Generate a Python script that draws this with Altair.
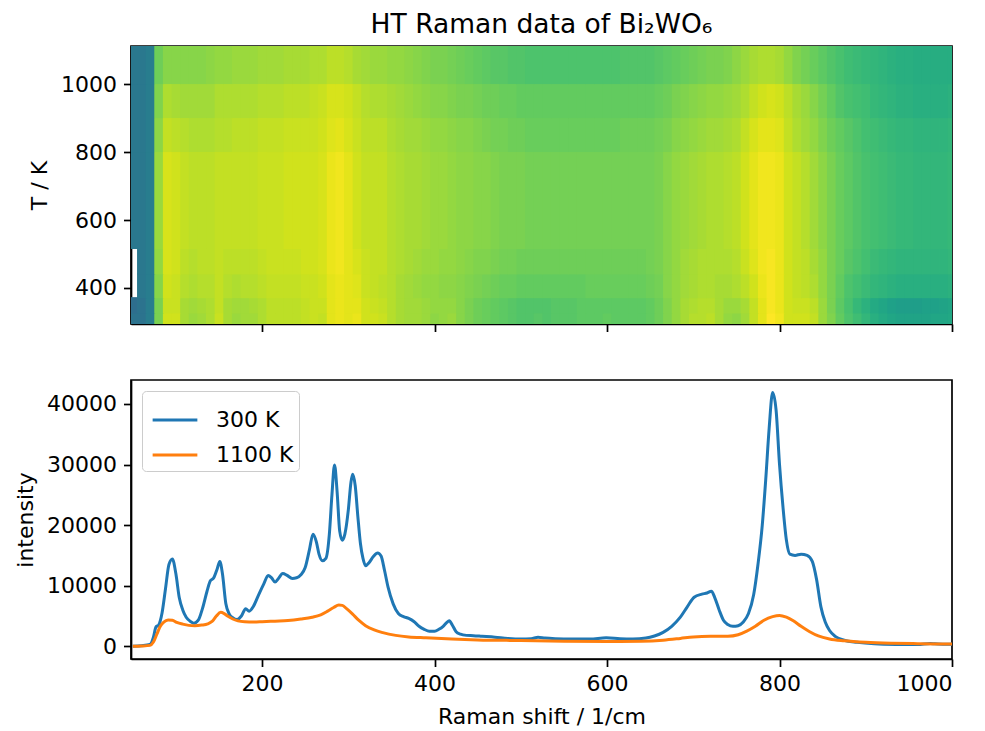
import altair as alt
import pandas as pd

TITLE = "HT Raman data of Bi₂WO₆"

# ---------------- heat map (colour level, 0..100 on viridis) ----------------
HEAT_COLS = list(range(50, 1001, 10))                       # column centres, 1/cm (bin width 10)
HEAT_T_LO = [287, 325, 370, 440, 515, 800, 900, 1000]       # row lower edges, K
HEAT_T_HI = [325, 370, 440, 515, 800, 900, 1000, 1112]      # row upper edges, K

ROW_1 = [38, 38, 42, 80, 93, 93, 87, 85, 86, 88,
         92, 87, 85, 86, 86, 88, 90, 90, 90, 90,
         91, 92, 91, 96, 97, 96, 97, 93, 93, 92,
         89, 87, 86, 86, 85, 83, 84, 85, 82, 80,
         78, 77, 76, 75, 74, 73, 73, 74, 73, 74,
         74, 74, 75, 75, 75, 76, 75, 75, 75, 75,
         76, 78, 81, 84, 87, 89, 89, 90, 87, 84,
         83, 86, 91, 96, 100, 98, 93, 93, 93, 91,
         85, 81, 76, 72, 69, 66, 63, 61, 59, 58,
         58, 58, 58, 59, 59, 60]
ROW_2 = [36, 38, 42, 80, 92, 92, 87, 86, 87, 88,
         91, 87, 86, 86, 87, 88, 90, 90, 90, 90,
         91, 92, 92, 96, 97, 96, 96, 93, 92, 91,
         89, 87, 86, 86, 85, 84, 84, 84, 82, 80,
         78, 77, 76, 75, 74, 73, 73, 73, 73, 74,
         74, 74, 75, 75, 75, 75, 75, 75, 75, 75,
         76, 78, 81, 84, 87, 88, 89, 89, 87, 85,
         85, 87, 91, 96, 99, 97, 93, 92, 92, 90,
         85, 80, 75, 71, 67, 64, 61, 59, 57, 56,
         56, 56, 57, 57, 58, 59]
ROW_3 = [None, 40, 42, 82, 93, 92, 89, 88, 89, 89,
         91, 89, 88, 89, 89, 90, 91, 91, 91, 91,
         92, 92, 93, 96, 97, 96, 95, 92, 91, 90,
         89, 87, 86, 85, 84, 84, 83, 83, 82, 81,
         80, 79, 78, 77, 77, 76, 76, 76, 76, 76,
         76, 76, 76, 77, 77, 77, 77, 77, 77, 77,
         78, 79, 82, 84, 86, 87, 88, 88, 87, 87,
         88, 90, 93, 97, 99, 97, 93, 91, 90, 88,
         84, 80, 76, 72, 70, 68, 66, 65, 64, 63,
         63, 63, 63, 63, 63, 64]
ROW_4 = [None, 40, 42, 84, 94, 93, 90, 89, 90, 90,
         91, 90, 90, 90, 90, 91, 92, 92, 92, 92,
         93, 93, 94, 97, 98, 96, 94, 92, 91, 91,
         89, 88, 87, 86, 85, 85, 84, 84, 83, 82,
         81, 81, 80, 79, 79, 78, 78, 78, 78, 78,
         78, 78, 78, 78, 78, 78, 78, 78, 78, 78,
         79, 80, 82, 84, 86, 87, 88, 88, 88, 88,
         89, 92, 95, 98, 99, 97, 93, 91, 90, 87,
         84, 80, 77, 74, 72, 70, 68, 67, 66, 65,
         65, 65, 65, 65, 65, 66]
ROW_5 = [40, 40, 42, 85, 94, 93, 91, 90, 90, 90,
         91, 91, 91, 91, 91, 92, 92, 92, 93, 93,
         93, 93, 94, 97, 98, 96, 93, 91, 91, 91,
         89, 88, 87, 87, 86, 85, 85, 84, 83, 83,
         82, 82, 81, 80, 80, 80, 79, 79, 79, 79,
         79, 79, 79, 79, 79, 79, 79, 79, 79, 79,
         79, 80, 82, 84, 85, 86, 87, 88, 88, 89,
         90, 93, 96, 98, 98, 97, 93, 91, 89, 86,
         83, 80, 77, 75, 73, 71, 70, 69, 68, 67,
         67, 66, 66, 66, 66, 67]
ROW_6 = [40, 40, 42, 83, 91, 90, 89, 88, 88, 88,
         89, 89, 90, 90, 90, 91, 91, 91, 92, 92,
         92, 92, 93, 95, 96, 94, 92, 90, 90, 90,
         88, 87, 86, 86, 85, 84, 84, 83, 82, 82,
         81, 80, 79, 79, 78, 78, 77, 77, 77, 77,
         77, 77, 77, 77, 77, 77, 77, 78, 78, 78,
         78, 79, 80, 82, 83, 84, 85, 86, 86, 87,
         88, 91, 94, 96, 96, 95, 91, 88, 86, 84,
         81, 78, 76, 74, 72, 70, 69, 68, 67, 66,
         66, 65, 65, 65, 65, 66]
ROW_7 = [40, 40, 42, 81, 88, 87, 86, 86, 86, 86,
         88, 88, 88, 88, 88, 89, 89, 89, 90, 90,
         90, 91, 92, 94, 94, 93, 91, 89, 88, 88,
         87, 86, 85, 84, 83, 82, 82, 81, 80, 80,
         79, 78, 78, 77, 77, 76, 76, 76, 76, 76,
         76, 76, 76, 76, 76, 76, 76, 76, 76, 76,
         76, 77, 78, 80, 81, 82, 83, 84, 84, 85,
         86, 88, 91, 93, 94, 93, 90, 87, 85, 82,
         79, 76, 73, 71, 70, 69, 67, 66, 65, 64,
         64, 63, 63, 63, 63, 64]
ROW_8 = [40, 40, 42, 78, 82, 82, 82, 82, 82, 83,
         84, 84, 85, 85, 85, 86, 86, 86, 87, 87,
         87, 88, 88, 90, 90, 89, 87, 86, 85, 85,
         84, 84, 83, 82, 81, 80, 80, 79, 78, 77,
         76, 75, 74, 74, 73, 73, 72, 72, 72, 72,
         72, 72, 72, 72, 72, 72, 72, 73, 73, 73,
         73, 74, 75, 76, 77, 78, 79, 80, 80, 81,
         83, 85, 87, 88, 88, 87, 84, 81, 79, 77,
         75, 73, 71, 69, 68, 67, 66, 65, 64, 63,
         63, 62, 62, 62, 62, 62]
HEAT_ROWS = [ROW_1, ROW_2, ROW_3, ROW_4, ROW_5, ROW_6, ROW_7, ROW_8]

# ---------------- spectra ----------------
S300_X = [50, 60, 70, 74, 77, 80, 84, 88, 92, 96, 100, 104, 108, 112, 117, 121, 126, 131, 136, 140,
          144, 148, 151, 154, 158, 162, 166, 171, 176, 181, 185, 190, 196, 202, 207, 211, 215, 219, 224, 229,
          235, 240, 245, 250, 255, 259, 263, 266, 270, 274, 278, 281, 284, 287, 290, 293, 296, 300, 303, 305,
          308, 311, 314, 317, 320, 324, 329, 334, 338, 342, 346, 352, 358, 364, 370, 376, 382, 388, 394, 400,
          405, 410, 414, 417, 421, 425, 430, 437, 445, 455, 470, 485, 500, 512, 520, 528, 540, 560, 580, 599,
          615, 630, 645, 655, 665, 675, 685, 693, 701, 710, 716, 721, 725, 730, 735, 740, 746, 752, 758, 764,
          770, 775, 780, 784, 788, 792, 796, 800, 804, 808, 812, 818, 825, 832, 838, 843, 848, 853, 858, 865,
          875, 890, 910, 935, 960, 975, 980, 990, 1000]
S300_Y = [0, 100, 300, 1500, 3200, 3500, 5500, 9500, 13500, 14400, 12000, 8000, 6000, 4800, 4100, 3800, 4300, 6300, 9000, 10800,
          11300, 12800, 14000, 12000, 7000, 5300, 4700, 4400, 5000, 6200, 5800, 6600, 8500, 10300, 11700, 11300, 10600, 11200, 12000, 11700,
          11200, 11300, 11800, 13000, 16000, 18500, 17200, 15200, 14100, 14500, 18500, 25000, 29900, 25500, 19000, 17500, 18500, 22500, 27000, 28400,
          26500, 21500, 17000, 14500, 13300, 13800, 14800, 15400, 14900, 12500, 9800, 7000, 5400, 4900, 4600, 4100, 3300, 2800, 2500, 2500,
          2800, 3300, 3900, 4200, 3400, 2400, 2000, 1800, 1750, 1650, 1500, 1300, 1200, 1250, 1500, 1350, 1250, 1200, 1200, 1400,
          1250, 1200, 1350, 1700, 2300, 3300, 4800, 6500, 8100, 8600, 8800, 9100, 8000, 6000, 4300, 3600, 3300, 3400, 4000, 5400,
          8500, 13500, 20000, 27500, 36000, 41900, 39000, 30000, 23000, 17500, 15200, 15000, 15200, 15000, 14000, 11000, 6500, 4000, 2600, 1600,
          1000, 650, 400, 300, 280, 450, 400, 350, 330]

S1100_X = [50, 60, 70, 74, 78, 82, 86, 91, 96, 101, 108, 115, 122, 130, 137, 142, 147, 152, 156, 160,
           166, 172, 180, 190, 200, 215, 230, 245, 258, 268, 276, 283, 289, 293, 298, 305, 312, 320, 330, 340,
           355, 370, 390, 420, 450, 500, 550, 600, 640, 665, 685, 700, 720, 740, 752, 762, 772, 782, 792, 800,
           808, 816, 825, 835, 845, 858, 875, 900, 930, 960, 1000]
S1100_Y = [0, 50, 150, 700, 2000, 3300, 4000, 4350, 4300, 3950, 3650, 3450, 3400, 3500, 3700, 4100, 5000, 5600, 5400, 5000,
           4500, 4200, 4050, 4000, 4050, 4150, 4250, 4500, 4800, 5200, 5800, 6400, 6800, 6750, 6200, 5300, 4300, 3400, 2700, 2250,
           1800, 1550, 1400, 1200, 1050, 950, 850, 800, 830, 1000, 1300, 1550, 1650, 1650, 1900, 2500, 3300, 4300, 4900, 5100,
           4800, 4200, 3300, 2400, 1700, 1200, 900, 650, 500, 430, 380]

SERIES = ["300 K", "1100 K"]
COLORS = ["#1f77b4", "#ff7f0e"]

X_TICKS = [200, 400, 600, 800, 1000]
T_TICKS = [400, 600, 800, 1000]
I_TICKS = [0, 10000, 20000, 30000, 40000]

# ---------------- tables ----------------
# cells are widened a little so neighbouring rectangles overlap and leave no seams
heat_records = []
for lo, hi, row in zip(HEAT_T_LO, HEAT_T_HI, HEAT_ROWS):
    for c, v in zip(HEAT_COLS, row):
        if v is None:
            continue
        heat_records.append({"x": c - 5, "x2": c + 6, "t": lo, "t2": hi + 3, "v": v / 100})
heat_df = pd.DataFrame(heat_records)

spec_records = []
for xs, ys, name in [(S300_X, S300_Y, SERIES[0]), (S1100_X, S1100_Y, SERIES[1])]:
    for i, (x, y) in enumerate(zip(xs, ys)):
        spec_records.append({"shift": x, "intensity": y, "series": name, "i": i})
spec_df = pd.DataFrame(spec_records)

FONT = "DejaVu Sans"
FS = 22
xscale = alt.Scale(domain=[48, 1000], nice=False, zero=False)
vir = alt.Scale(scheme="viridis", domain=[0, 1])

top = alt.Chart(heat_df).mark_rect(clip=True, strokeWidth=0).encode(
    x=alt.X("x:Q", scale=xscale,
            axis=alt.Axis(values=X_TICKS, labels=False, title=None, minExtent=0)),
    x2="x2:Q",
    y=alt.Y("t:Q", scale=alt.Scale(domain=[294, 1112], nice=False, zero=False),
            axis=alt.Axis(values=T_TICKS, format="d", title="T / K")),
    y2="t2:Q",
    color=alt.Color("v:Q", scale=vir, legend=None),
).properties(
    width=821, height=278,
    title=alt.TitleParams(TITLE, fontSize=26.5, font=FONT, fontWeight="normal",
                          anchor="middle", offset=8, color="black"),
)

bottom = alt.Chart(spec_df).mark_line(strokeWidth=3, interpolate="monotone", clip=True).encode(
    x=alt.X("shift:Q", scale=xscale,
            axis=alt.Axis(values=X_TICKS, format="d", title="Raman shift / 1/cm", titlePadding=12)),
    y=alt.Y("intensity:Q", scale=alt.Scale(domain=[-2100, 43950], nice=False, zero=False),
            axis=alt.Axis(values=I_TICKS, format="d", title="intensity")),
    color=alt.Color("series:N", scale=alt.Scale(domain=SERIES, range=COLORS),
                    legend=alt.Legend(title=None, orient="none", legendX=11, legendY=11,
                                      symbolType="stroke", symbolStrokeWidth=3, symbolSize=2000,
                                      symbolOffset=4,
                                      labelFontSize=FS, labelFont=FONT, labelColor="black",
                                      fillColor="white", strokeColor="#cccccc", cornerRadius=4,
                                      padding=5, labelOffset=17, rowPadding=0)),
    order="i:Q",
).properties(width=821, height=279)

chart = alt.vconcat(top, bottom, spacing=45).properties(
    padding={"left": 5, "top": 2, "right": 5, "bottom": 5}
).configure(font=FONT).configure_view(
    stroke="black", strokeWidth=1.7
).configure_axis(
    labelFont=FONT, titleFont=FONT, labelFontSize=FS, titleFontSize=FS,
    labelColor="black", titleColor="black", titleFontWeight="normal",
    tickColor="black", tickSize=7.5, tickWidth=1.7, labelPadding=7,
    domainColor="black", domainWidth=1.7, grid=False, titlePadding=9,
)

chart.save("out.html", embed_options={"renderer": "svg", "actions": False})
